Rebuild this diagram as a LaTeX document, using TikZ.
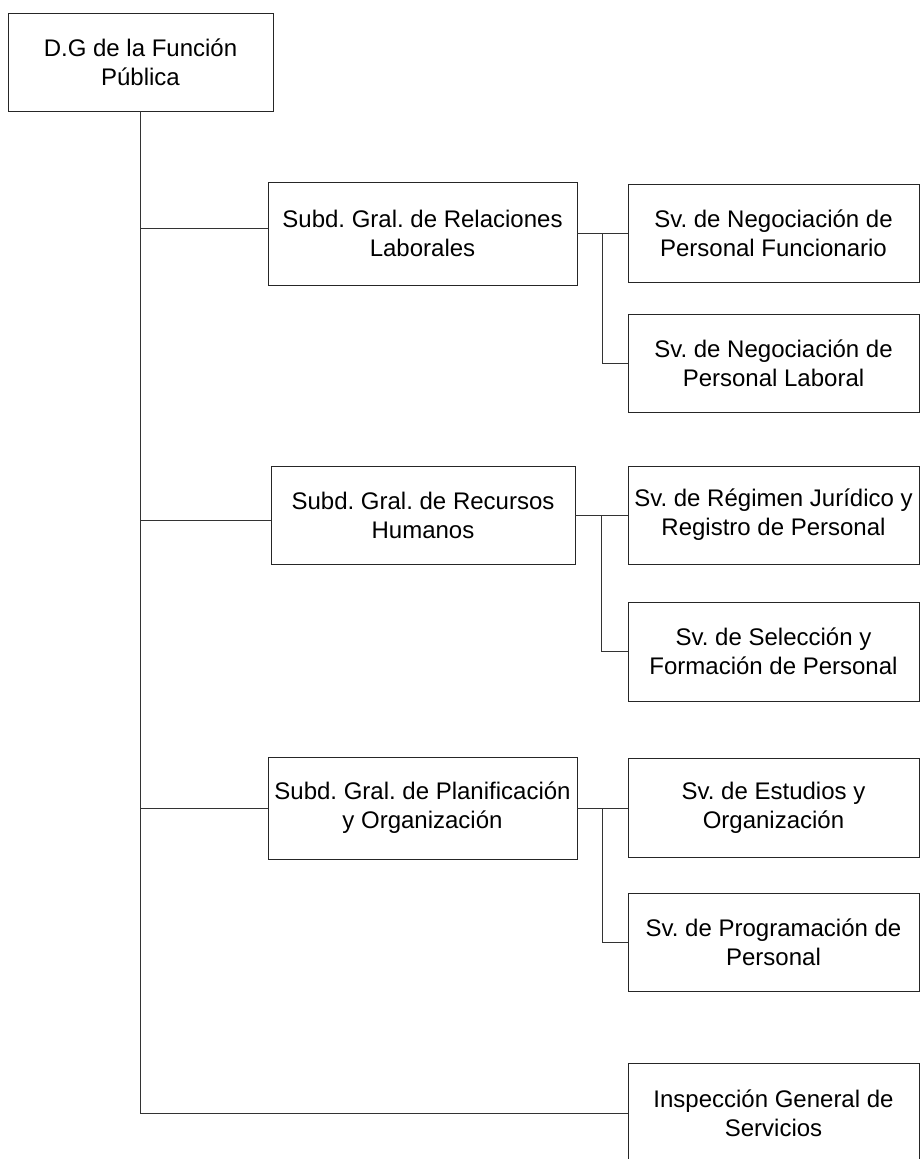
\documentclass[tikz,border=0pt]{standalone}
\usepackage{fontspec}
\setmainfont{Liberation Sans}
\frenchspacing
\begin{document}
\begin{tikzpicture}[x=1pt,y=-1pt,
  unit/.style={draw=black!85, line width=0.9pt, fill=white, align=center,
    inner xsep=0pt, inner ysep=0pt,
    font=\fontsize{24}{29}\selectfont},
  link/.style={draw=black!80, line width=0.9pt}]
\useasboundingbox (0,0) rectangle (920,1159);
\begin{scope}
\clip (0,0) rectangle (920,1159);
% head of the unit
\node[unit, minimum width=265, minimum height=98] (dg) at (140.5,62) {D.G de la Función\\Pública};
% sub-directorates
\node[unit, minimum width=309, minimum height=103] (s1) at (422.5,233.5) {Subd. Gral. de Relaciones\\Laborales};
\node[unit, minimum width=304, minimum height=98] (s2) at (423,515) {Subd. Gral. de Recursos\\Humanos};
\node[unit, minimum width=309, minimum height=102] (s3) at (422.5,808) {Subd. Gral. de Planificación\\y Organización};
% services
\node[unit, minimum width=291, minimum height=98] (r1) at (773.5,233) {Sv. de Negociación de\\Personal Funcionario};
\node[unit, minimum width=291, minimum height=98] (r2) at (773.5,363) {Sv. de Negociación de\\Personal Laboral};
\node[unit, minimum width=291, minimum height=98] (r3) at (773.5,515) {Sv. de Régimen Jurídico y\\Registro de Personal};
\node[unit, minimum width=291, minimum height=99] (r4) at (773.5,651.5) {Sv. de Selección y\\Formación de Personal};
\node[unit, minimum width=291, minimum height=99] (r5) at (773.5,807.5) {Sv. de Estudios y\\Organización};
\node[unit, minimum width=291, minimum height=98] (r6) at (773.5,942) {Sv. de Programación de\\Personal};
\node[unit, minimum width=291, minimum height=100] (ig) at (773.5,1113) {Inspección General de\\Servicios};

% branch entry points on the sub-directorate boxes
\coordinate (e1) at ([yshift=5.5pt]s1.west);
\coordinate (e2) at ([yshift=-5pt]s2.west);

% trunk and branches
\draw[link] (dg.south) -- (dg.south |- ig.west) -- (ig.west);
\draw[link] (dg.south |- e1) -- (e1);
\draw[link] (dg.south |- e2) -- (e2);
\draw[link] (dg.south |- s3.west) -- (s3.west);

% service links
\coordinate (b1) at ([xshift=25pt]s1.east);
\draw[link] (s1.east) -- (s1.east -| r1.west);
\draw[link] (b1) |- (r2.west);
\coordinate (b2) at ([xshift=26pt]s2.east);
\draw[link] (s2.east) -- (r3.west);
\draw[link] (b2) |- (r4.west);
\coordinate (b3) at ([xshift=25pt]s3.east);
\draw[link] (s3.east) -- (s3.east -| r5.west);
\draw[link] (b3) |- (r6.west);
\end{scope}
\end{tikzpicture}
\end{document}
